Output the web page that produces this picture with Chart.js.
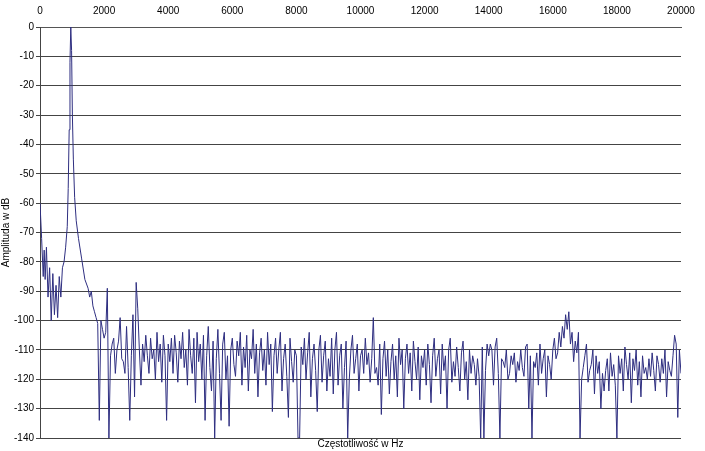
<!DOCTYPE html>
<html><head><meta charset="utf-8">
<script src="https://cdn.jsdelivr.net/npm/chart.js@4"></script>
<style>html,body{margin:0;background:#fff}#w{width:705px;height:451px}</style>
</head><body><div id="w"><canvas id="c"></canvas></div>
<script>
const lowFreqs=[0,50,100,130,160,200,250,300,350,400,450,500,550,600,650,700,750,800,850,880,910,935,960,985,1010,1040,1080,1130,1200,1300,1400];
const lowAmps=[-60,-72,-85,-76,-86,-75,-92,-82,-100,-84,-98,-88,-99,-85,-92,-82,-80,-75,-68,-55,-35,-12,0,-8,-30,-45,-58,-66,-72,-79,-86];
const noiseStart=1500, noiseStep=50;
const noiseAmps=[
-89,-92,-90,-95,-97,-99,-101,-134,-100,-103,
-106,-104,-89,-140,-112,-108,-106,-118,-110,-107,-99,-113,-114,-118,-102,-116,-134,-112,-98,-126,
-87,-96,-110,-122,-108,-114,-105,-112,-118,-106,-113,-110,-120,-104,-114,-108,-121,-105,-112,-134,
-108,-114,-106,-118,-105,-111,-121,-107,-113,-104,-116,-110,-122,-103,-112,-118,-106,-128,-104,-114,
-108,-120,-105,-134,-112,-102,-116,-124,-107,-140,-113,-103,-118,-134,-108,-104,-120,-112,-136,-110,
-106,-115,-119,-107,-112,-104,-122,-109,-116,-105,-124,-110,-113,-103,-118,-108,-126,-111,-106,-117,
-110,-122,-104,-115,-108,-131,-112,-106,-118,-110,-104,-124,-113,-108,-119,-133,-106,-114,-121,-110,
-112,-140,-140,-109,-115,-106,-120,-111,-104,-126,-113,-108,-117,-131,-110,-105,-121,-112,-107,-124,
-113,-119,-106,-125,-110,-104,-122,-112,-108,-130,-116,-107,-140,-120,-110,-105,-118,-113,-108,-124,
-112,-110,-118,-106,-115,-111,-121,-113,-99,-118,-116,-122,-108,-132,-113,-107,-119,-110,-125,-114,
-108,-120,-112,-126,-106,-115,-110,-130,-113,-108,-118,-111,-124,-107,-114,-120,-109,-127,-112,-116,
-110,-122,-108,-115,-128,-112,-106,-119,-113,-110,-125,-108,-117,-112,-130,-110,-106,-121,-114,-119,
-109,-116,-124,-111,-107,-120,-114,-127,-110,-118,-112,-115,-122,-113,-119,-140,-109,-140,-117,-108,
-112,-108,-110,-122,-109,-106,-118,-140,-113,-114,-116,-110,-120,-118,-112,-115,-111,-121,-114,-117,
-110,-116,-119,-109,-108,-130,-112,-140,-114,-116,-111,-122,-108,-118,-113,-110,-126,-112,-115,-120,
-110,-106,-113,-111,-104,-109,-102,-106,-98,-103,-97,-108,-104,-114,-107,-111,-104,-140,-120,-116,
-112,-108,-121,-117,-115,-110,-125,-112,-118,-114,-130,-118,-124,-117,-113,-124,-111,-119,-115,-122,
-140,-112,-118,-113,-124,-109,-115,-120,-111,-128,-113,-117,-110,-122,-114,-126,-112,-118,-116,-120,
-113,-119,-111,-117,-124,-112,-115,-121,-113,-118,-110,-126,-114,-117,-119,-112,-105,-108,-133,-110,
-118];
const yTicks=[0,-10,-20,-30,-40,-50,-60,-70,-80,-90,-100,-110,-120,-130,-140];
const xTitle='Częstotliwość w Hz';
const pts=lowFreqs.map((f,i)=>({x:f,y:lowAmps[i]}));
noiseAmps.forEach((a,i)=>pts.push({x:noiseStart+i*noiseStep,y:a}));
const font={family:'Liberation Sans, Arial',size:10};
const xTitlePlugin={id:'xt',afterDraw(ch){const a=ch.chartArea,c=ch.ctx;c.save();c.font='10px "Liberation Sans", Arial';c.fillStyle='#000';c.textAlign='center';c.textBaseline='top';c.fillText(xTitle,(a.left+a.right)/2,a.bottom+1);c.restore();}};
new Chart(document.getElementById('c'),{type:'line',
data:{datasets:[{data:pts,borderColor:'#2e2e80',borderWidth:1,pointRadius:0,tension:0,fill:false}]},
plugins:[xTitlePlugin],
options:{responsive:true,maintainAspectRatio:false,animation:false,
layout:{padding:{left:0,right:24,top:3,bottom:13}},
plugins:{legend:{display:false},tooltip:{enabled:false}},
scales:{
x:{type:'linear',position:'top',min:0,max:20000,ticks:{stepSize:2000,color:'#000',font,padding:2,callback:v=>String(v)},grid:{display:false},border:{color:'#555'}},
y:{min:-140,max:0,afterBuildTicks:s=>{s.ticks=yTicks.map(v=>({value:v}));},ticks:{color:'#000',font,padding:2},grid:{color:'#444',tickLength:4},border:{color:'#444'},title:{display:true,text:'Amplituda w dB',color:'#000',font,padding:0}}
}}});
</script></body></html>
